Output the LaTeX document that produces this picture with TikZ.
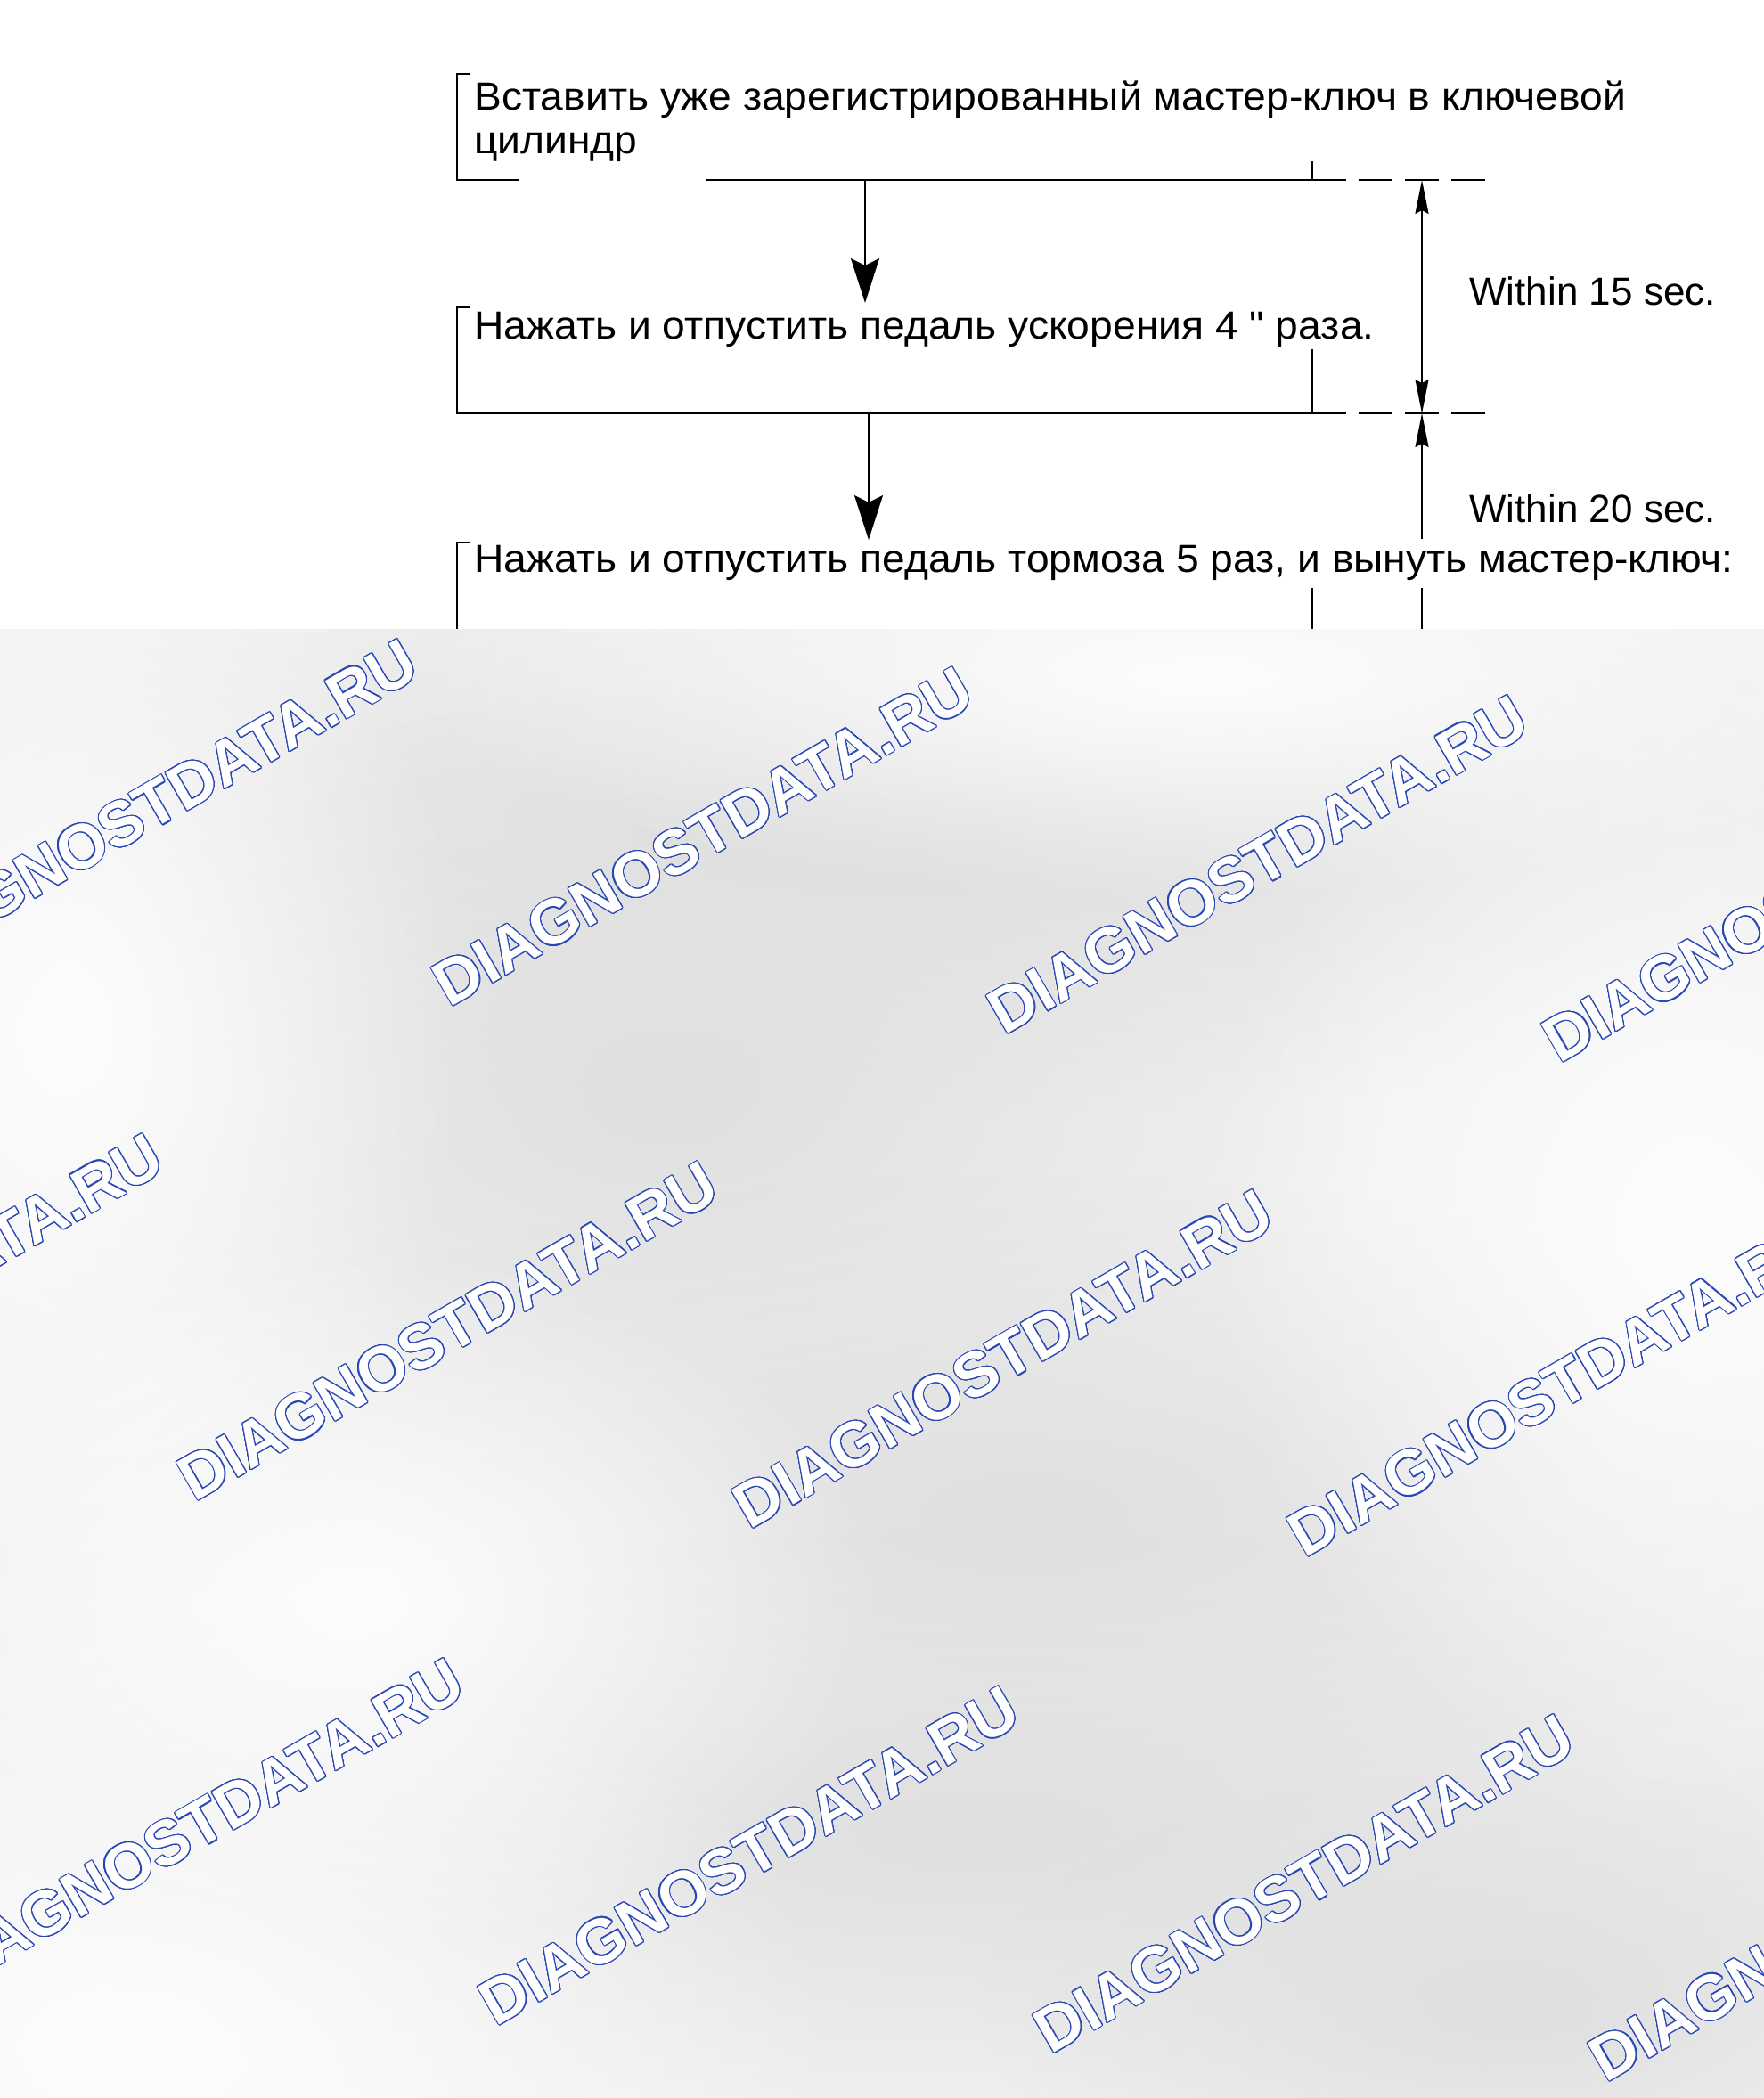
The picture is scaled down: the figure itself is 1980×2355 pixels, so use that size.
\documentclass[tikz,border=0pt]{standalone}
\usepackage{fontspec}
\setmainfont{Liberation Sans}
\newfontfamily\rufont[FakeStretch=1.05]{Liberation Sans}
\usepackage{contour}
\contourlength{0.55pt}
\contournumber{24}
\usetikzlibrary{arrows.meta,positioning,calc,fadings}
\definecolor{wmblue}{HTML}{2A48B4}
\definecolor{bgbase}{HTML}{F1F1F1}
\definecolor{bgdark}{HTML}{DFDFDF}
\definecolor{bglight}{HTML}{FDFDFD}
\tikzfading[name=softblob, inner color=transparent!0, outer color=transparent!100]
\tikzset{
	steptext/.style={inner sep=0pt, font=\rufont\fontsize{22}{24.5}\selectfont, align=left},
	timetext/.style={inner sep=0pt, font=\fontsize{22}{24.5}\selectfont, anchor=base west},
	flowline/.style={line width=1.1pt},
	dimline/.style={line width=0.8pt},
	dashline/.style={line width=1.1pt, dash pattern=on 19pt off 7pt},
	watermark/.style={rotate=30, inner sep=0pt, text=white, font=\fontsize{35.5}{35.5}\bfseries\selectfont},
}

\begin{document}
\begin{tikzpicture}[x=0.5pt,y=-0.5pt,>={Stealth[length=25pt,width=16pt,inset=4pt]}]
		\useasboundingbox (0,0) rectangle (1980,2355);
		\fill[white] (0,0) rectangle (1980,2355);
		% steps
		\node[steptext, anchor=north west] (ins) at (532,90) {Вставить уже зарегистрированный мастер-ключ в ключевой\\цилиндр};
		\node[steptext, anchor=base west] (acc) at (532,380) {Нажать и отпустить педаль ускорения 4 \symbol{34} раза.};
		\node[steptext, anchor=base west] (brk) at (532,642) {Нажать и отпустить педаль тормоза 5 раз, и вынуть мастер-ключ:};
		\node[timetext] (t15) at (1649,342) {Within 15 sec.};
		\node[timetext] (t20) at (1649,586) {Within 20 sec.};
		% brackets
		\draw[flowline] (528,83)--(513,83)--(513,202)--(583,202);
		\draw[flowline] (793,202)--(1511,202) (1473,181)--(1473,202);
		\draw[flowline] (528,345)--(513,345)--(513,464)--(1511,464) (1473,392)--(1473,464);
		\draw[flowline] (528,609)--(513,609)--(513,740) (1473,660)--(1473,740);
		\foreach \y in {202,464}
			\draw[dashline] (1525,\y)--(1667,\y);
		% flow arrows
		\coordinate (a1) at (971,202);
		\coordinate (b1) at (971,340);
		\coordinate (a2) at (975,464);
		\coordinate (b2) at (975,606);
		\draw[flowline,->] (a1)--(b1);
		\draw[flowline,->] (a2)--(b2);
		% timing
		\begin{scope}[dimline, >={Stealth[length=19pt,width=7.5pt,inset=2pt]}]
			\coordinate (d0) at (1596,202);
			\coordinate (d1) at (1596,464);
			\coordinate (d2) at (1596,605);
			\coordinate (d3) at (1596,660);
			\coordinate (d4) at (1596,745);
			\draw[<->] (d0)--(d1);
			\draw[->] (d2)--(d1);
			\draw[->] (d3)--(d4);
		\end{scope}
		% overlay
		\fill[bgbase] (0,706) rectangle (1980,2355);
		\begin{scope}
			\clip (0,706) rectangle (1980,2355);
			\foreach \cx/\cy/\rx/\ry in {1000/930/1300/320, 750/1230/800/450, 1150/1700/1000/380, 1100/2060/1200/340, 1700/2250/600/260}
				\fill[bgdark, path fading=softblob] (\cx,\cy) ellipse ({\rx} and {\ry});
			\foreach \cx/\cy/\rx/\ry in {150/2300/800/500, 1900/1380/550/650, 80/1150/450/650, 1350/760/900/250, 400/1800/600/400}
				\fill[bglight, path fading=softblob] (\cx,\cy) ellipse ({\rx} and {\ry});
			\foreach \bx/\by [count=\r] in {166/908,-120/1463,218/2052}
				\foreach \k in {0,...,3}
					\node[watermark] (wm\r\k) at (\bx+623*\k,\by+31.5*\k) {\contour{wmblue}{DIAGNOSTDATA.RU}};
		\end{scope}
	\end{tikzpicture}
\end{document}
